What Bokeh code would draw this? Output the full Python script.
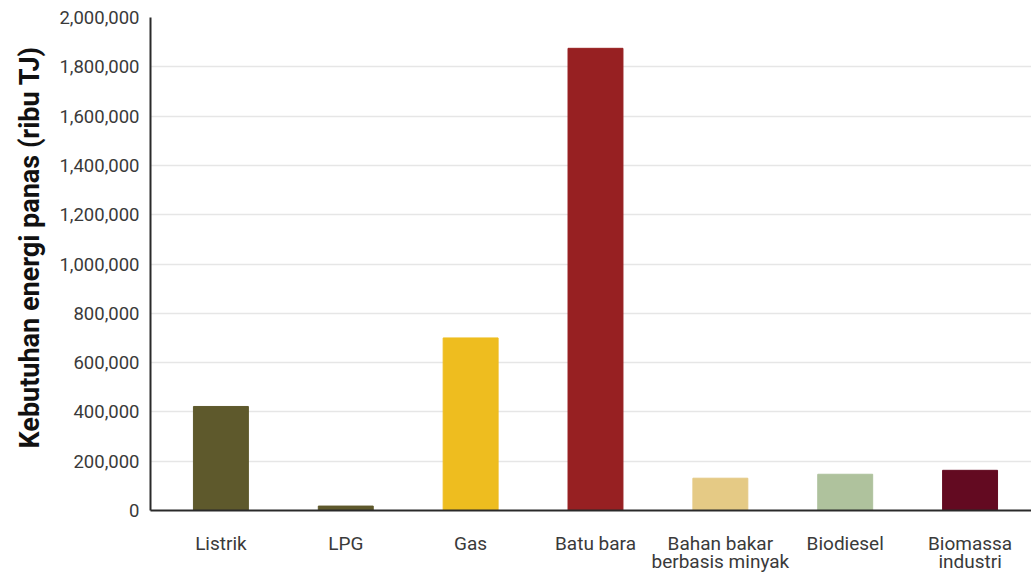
from bokeh.plotting import figure
from bokeh.models import Range1d, FixedTicker, NumeralTickFormatter, Title
from bokeh.embed import file_html
from bokeh.resources import INLINE

# Heat energy demand by fuel type (thousand TJ)
categories = ["Listrik", "LPG", "Gas", "Batu bara",
              "Bahan bakar\nberbasis minyak", "Biodiesel", "Biomassa\nindustri"]
demand = [422000, 18000, 700000, 1875000, 131000, 147000, 163000]
colors = ["#5e592c", "#5e592c", "#eebd1f", "#972022", "#e5ca85", "#afc29d", "#630a21"]
y_ticks = list(range(0, 2000001, 200000))
y_title = "Kebutuhan energi panas (ribu TJ)"

x_pos = list(range(len(categories)))

p = figure(width=1031, height=575, output_backend="svg", toolbar_location=None,
           x_range=Range1d(-0.564, 6.492), y_range=Range1d(0, 2000000),
           min_border_left=149, min_border_right=0, min_border_top=17,
           min_border_bottom=65)

p.vbar(x=x_pos, top=demand, width=0.44, color=colors)

p.outline_line_color = None
p.background_fill_color = "white"
p.border_fill_color = "white"

# vertical axis title, sitting left of the tick labels
p.add_layout(Title(text=y_title, align="left", offset=62, standoff=22,
                   text_font="Roboto", text_font_style="bold",
                   text_font_size="27px", text_line_height=1.0,
                   text_color="#111111"), "left")

# y axis
p.yaxis.ticker = FixedTicker(ticks=y_ticks)
p.yaxis.formatter = NumeralTickFormatter(format="0,0")
p.yaxis.major_label_text_font = "Roboto"
p.yaxis.major_label_text_font_size = "18.5px"
p.yaxis.major_label_text_color = "#3a3a3a"
p.yaxis.major_label_standoff = 11
p.yaxis.major_tick_out = 0
p.yaxis.major_tick_in = 0
p.yaxis.major_tick_line_color = None
p.yaxis.minor_tick_line_color = None
p.yaxis.axis_line_color = "#2a2a2a"
p.yaxis.axis_line_width = 2

# x axis
p.xaxis.ticker = FixedTicker(ticks=x_pos)
p.xaxis.major_label_overrides = {i: c for i, c in enumerate(categories)}
p.xaxis.major_label_text_font = "Roboto"
p.xaxis.major_label_text_font_size = "19px"
p.xaxis.major_label_text_line_height = 0.8
p.xaxis.major_label_text_color = "#3a3a3a"
p.xaxis.major_label_standoff = 21
p.xaxis.major_tick_out = 0
p.xaxis.major_tick_in = 0
p.xaxis.major_tick_line_color = None
p.xaxis.minor_tick_line_color = None
p.xaxis.axis_line_color = "#2a2a2a"
p.xaxis.axis_line_width = 2

p.xgrid.grid_line_color = None
p.ygrid.grid_line_color = "#e6e6e6"
p.ygrid.grid_line_width = 1.5

open("out.html", "w").write(file_html(p, INLINE))
